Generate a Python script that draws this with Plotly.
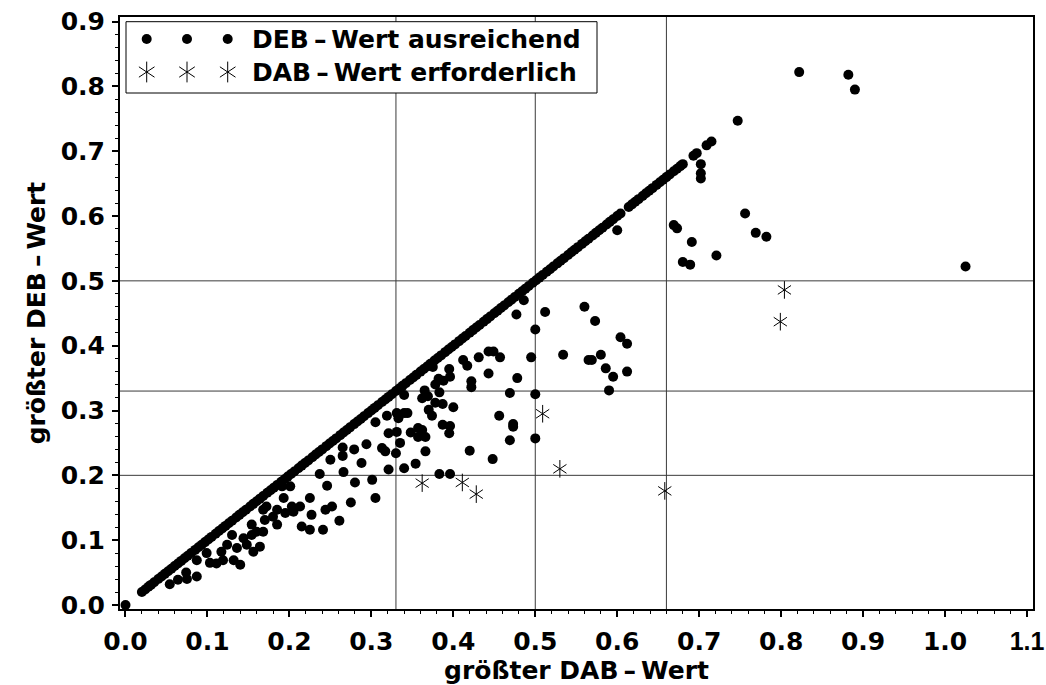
import plotly.graph_objects as go

# Cases where the largest DEB value equals the largest DAB value (points on the bisector)
equal_vals = [
    0.000,
    0.020, 0.024, 0.028, 0.031, 0.035, 0.040, 0.044, 0.048, 0.052, 0.056, 0.060, 0.064,
    0.068, 0.072, 0.076, 0.080, 0.085, 0.089, 0.093, 0.097, 0.101, 0.105, 0.110, 0.114,
    0.118, 0.122, 0.126, 0.130, 0.135, 0.139, 0.143, 0.147, 0.152, 0.156, 0.160, 0.164,
    0.168, 0.173, 0.177, 0.181, 0.185, 0.190, 0.194, 0.198, 0.202, 0.206, 0.211, 0.215,
    0.219, 0.223, 0.228, 0.232, 0.236, 0.240, 0.245, 0.249, 0.253, 0.257, 0.262, 0.266,
    0.270, 0.274, 0.279, 0.283, 0.287, 0.291, 0.296, 0.300, 0.304, 0.308, 0.313, 0.317,
    0.321, 0.325, 0.330, 0.334, 0.338, 0.342, 0.347, 0.351, 0.355, 0.360, 0.364, 0.368,
    0.372, 0.377, 0.381, 0.385, 0.390, 0.394, 0.398, 0.402, 0.407, 0.411, 0.415, 0.420,
    0.424, 0.428, 0.432, 0.437, 0.441, 0.445, 0.450, 0.454, 0.458, 0.462, 0.467, 0.471,
    0.475, 0.480, 0.484, 0.488, 0.492, 0.497, 0.501, 0.505, 0.509, 0.514, 0.518, 0.522,
    0.527, 0.531, 0.535, 0.540, 0.544, 0.548, 0.552, 0.557, 0.561, 0.565, 0.570, 0.574,
    0.578, 0.582, 0.587, 0.591, 0.595, 0.600, 0.604, 0.614, 0.618, 0.622, 0.626, 0.631,
    0.635, 0.639, 0.643, 0.648, 0.652, 0.656, 0.660, 0.664, 0.669, 0.673, 0.677, 0.680,
    0.693, 0.697, 0.709, 0.715, 0.747, 0.822,
]

# DEB value sufficient, DEB below DAB
deb_dab = [
    0.054, 0.064, 0.074, 0.075, 0.087, 0.087, 0.099, 0.103, 0.111, 0.119, 0.117, 0.124,
    0.130, 0.132, 0.136, 0.140, 0.144, 0.148, 0.154, 0.154, 0.156, 0.164, 0.160, 0.168,
    0.168, 0.170, 0.172, 0.180, 0.185, 0.185, 0.191, 0.193, 0.195, 0.201, 0.203, 0.205,
    0.213,
    0.486, 0.477, 0.500, 0.512, 0.560, 0.573, 0.604, 0.612, 0.534, 0.565, 0.569, 0.580,
    0.586, 0.595, 0.612, 0.590, 0.495, 0.500, 0.500, 0.478, 0.469, 0.456, 0.473, 0.473,
    0.469, 0.448, 0.420, 0.443, 0.457, 0.443, 0.449, 0.431, 0.422, 0.422, 0.412, 0.417,
    0.395, 0.396, 0.388, 0.382, 0.378, 0.383, 0.375, 0.365, 0.362, 0.369, 0.378, 0.387,
    0.400, 0.370, 0.374, 0.387, 0.396, 0.395, 0.357, 0.362, 0.357, 0.366, 0.348, 0.366,
    0.354, 0.340, 0.340, 0.344, 0.331, 0.333, 0.319, 0.331, 0.321, 0.335, 0.330, 0.305,
    0.313, 0.317, 0.340, 0.321, 0.383, 0.396, 0.288, 0.294, 0.279, 0.265, 0.265, 0.250,
    0.237, 0.246, 0.280, 0.266, 0.301, 0.275, 0.305, 0.261, 0.225, 0.227, 0.244, 0.252,
    0.241, 0.225, 0.215,
    0.702, 0.702, 0.702, 0.756, 0.769, 0.782, 0.600, 0.669, 0.673, 0.691, 0.721, 0.680,
    0.689, 1.025, 0.882, 0.890,
]
deb_deb = [
    0.032, 0.039, 0.050, 0.040, 0.044, 0.069, 0.080, 0.065, 0.064, 0.069, 0.082, 0.093,
    0.108, 0.069, 0.088, 0.062, 0.103, 0.093, 0.124, 0.108, 0.082, 0.090, 0.113, 0.113,
    0.147, 0.131, 0.152, 0.136, 0.147, 0.124, 0.183, 0.165, 0.142, 0.183, 0.152, 0.144,
    0.152,
    0.470, 0.448, 0.425, 0.452, 0.460, 0.438, 0.413, 0.403, 0.386, 0.378, 0.378, 0.386,
    0.365, 0.352, 0.360, 0.331, 0.382, 0.325, 0.257, 0.350, 0.327, 0.292, 0.279, 0.275,
    0.254, 0.225, 0.238, 0.357, 0.382, 0.391, 0.391, 0.382, 0.345, 0.336, 0.378, 0.369,
    0.364, 0.352, 0.346, 0.349, 0.340, 0.328, 0.367, 0.331, 0.319, 0.322, 0.312, 0.310,
    0.305, 0.301, 0.292, 0.278, 0.276, 0.265, 0.273, 0.270, 0.259, 0.259, 0.266, 0.237,
    0.218, 0.324, 0.296, 0.296, 0.296, 0.288, 0.292, 0.267, 0.265, 0.250, 0.234, 0.282,
    0.242, 0.237, 0.211, 0.209, 0.202, 0.202, 0.219, 0.248, 0.240, 0.243, 0.230, 0.224,
    0.202, 0.184, 0.189, 0.205, 0.193, 0.158, 0.165, 0.130, 0.165, 0.139, 0.147, 0.152,
    0.116, 0.116, 0.121,
    0.680, 0.666, 0.658, 0.604, 0.574, 0.568, 0.578, 0.586, 0.581, 0.560, 0.539, 0.529,
    0.525, 0.522, 0.818, 0.795,
]

# DAB value required
req_dab = [0.362, 0.411, 0.428, 0.509, 0.530, 0.658, 0.799, 0.804]
req_deb = [0.188, 0.189, 0.171, 0.295, 0.210, 0.176, 0.437, 0.486]

x_ticks = [0.0, 0.1, 0.2, 0.3, 0.4, 0.5, 0.6, 0.7, 0.8, 0.9, 1.0, 1.1]
y_ticks = [0.0, 0.1, 0.2, 0.3, 0.4, 0.5, 0.6, 0.7, 0.8, 0.9]
ref_x = [0.33, 0.5, 0.66]
ref_y = [0.2, 0.33, 0.5]
legend_labels = ["DEB\u2009\u2013\u2009Wert ausreichend", "DAB\u2009\u2013\u2009Wert erforderlich"]
x_title = "größter DAB\u2009\u2013\u2009Wert"
y_title = "größter DEB\u2009\u2013\u2009Wert"

X_RANGE = [-0.0067, 1.1073]
Y_RANGE = [-0.0062, 0.907]

FONT = dict(family="DejaVu Sans", size=25, color="black", weight="bold")
DOT = dict(symbol="circle", size=10, color="black", line=dict(width=0))
STAR_UP = dict(symbol="y-up-open", size=11, color="black", line=dict(width=1, color="black"))
STAR_DOWN = dict(symbol="y-down-open", size=11, color="black", line=dict(width=1, color="black"))

# x tick labels; the last one at the right edge is set in a narrower face
x_ticktext = [f"{v:.1f}" for v in x_ticks]
x_ticktext[-1] = f'<span style="font-family:Liberation Sans">{x_ticks[-1]:.1f}</span>'

fig = go.Figure()

# points: DEB sufficient (bisector + below)
fig.add_trace(go.Scatter(
    x=equal_vals + deb_dab, y=equal_vals + deb_deb, mode="markers",
    marker=DOT, name=legend_labels[0], showlegend=False, cliponaxis=False,
))
# stars: DAB required (six-armed asterisk from two three-armed symbols)
for m in (STAR_UP, STAR_DOWN):
    fig.add_trace(go.Scatter(
        x=req_dab, y=req_deb, mode="markers", marker=m,
        name=legend_labels[1], showlegend=False,
    ))

# legend key glyphs, placed on a pixel-based overlay axis
key_x = [146.7, 187.0, 227.7]
key_rows = [39, 72]
fig.add_trace(go.Scatter(
    x=key_x, y=[key_rows[0]] * 3, xaxis="x2", yaxis="y2", mode="markers",
    marker=DOT, showlegend=False, hoverinfo="skip",
))
for m in (STAR_UP, STAR_DOWN):
    mm = dict(m, size=13)
    fig.add_trace(go.Scatter(
        x=key_x, y=[key_rows[1]] * 3, xaxis="x2", yaxis="y2", mode="markers",
        marker=mm, showlegend=False, hoverinfo="skip",
    ))

shapes = []
for v in ref_x:
    shapes.append(dict(type="line", xref="x", yref="y", x0=v, x1=v,
                       y0=Y_RANGE[0], y1=Y_RANGE[1], layer="below",
                       line=dict(color="#3a3a3a", width=1)))
for v in ref_y:
    shapes.append(dict(type="line", xref="x", yref="y", y0=v, y1=v,
                       x0=X_RANGE[0], x1=X_RANGE[1], layer="below",
                       line=dict(color="#3a3a3a", width=1)))
# legend frame
shapes.append(dict(type="rect", xref="x2", yref="y2", x0=126, x1=597, y0=21.7, y1=93,
                   layer="below", fillcolor="white", line=dict(color="black", width=1)))

annotations = [
    dict(xref="x2", yref="y2", x=250, y=key_rows[i], text=legend_labels[i],
         showarrow=False, xanchor="left", yanchor="middle", font=FONT)
    for i in range(2)
]

axis_common = dict(
    showgrid=False, zeroline=False, showline=True, linecolor="black", linewidth=2,
    mirror=True, ticks="outside", ticklen=6, tickwidth=1.5, tickcolor="black",
    tickfont=FONT, ticklabeloverflow="allow", automargin=False,
    minor=dict(ticks="outside", ticklen=3, tickwidth=1, tickcolor="black", dtick=0.02),
)

fig.update_layout(
    width=1046, height=685,
    margin=dict(l=120, r=13, t=17, b=76),
    paper_bgcolor="white", plot_bgcolor="white",
    showlegend=False,
    xaxis=dict(axis_common, range=X_RANGE, tickvals=x_ticks, ticktext=x_ticktext,
               ticklabelstandoff=3,
               title=dict(text=x_title, font=FONT, standoff=14)),
    yaxis=dict(axis_common, range=Y_RANGE, tickvals=y_ticks, tickformat=".1f",
               ticklabelstandoff=2,
               title=dict(text=y_title, font=FONT, standoff=8)),
    xaxis2=dict(overlaying="x", range=[120, 1033], visible=False),
    yaxis2=dict(overlaying="y", range=[609, 17], visible=False),
    shapes=shapes,
    annotations=annotations,
)

fig.write_html("out.html")
